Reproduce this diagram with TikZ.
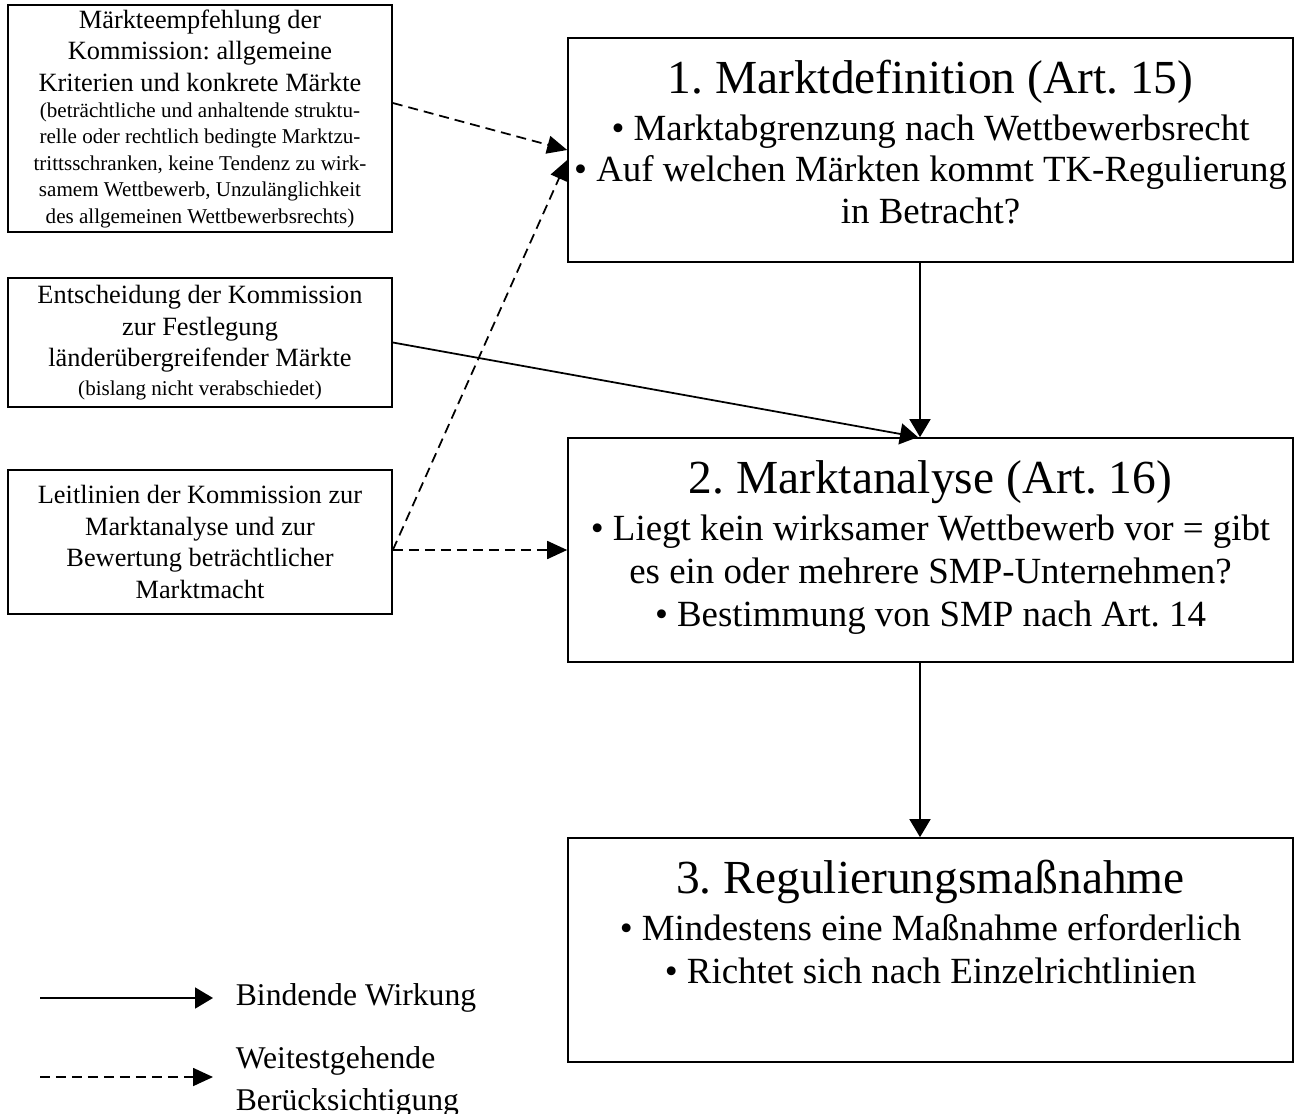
\documentclass[tikz,border=0pt]{standalone}
\usepackage{fontspec}
\setmainfont{Liberation Serif}
\usetikzlibrary{arrows.meta,positioning}
\newcommand\klein{\fontsize{12}{15}\selectfont}
\newcommand\stufe{\fontsize{27}{30}\selectfont}
\begin{document}
\frenchspacing
\begin{tikzpicture}[x=0.02cm, y=-0.02cm, line width=1pt,
side box/.style={rectangle,draw,minimum width=7.68cm,inner sep=0pt,align=center,font=\fontsize{15}{18}\selectfont},
step box/.style={rectangle,draw,minimum width=14.5cm,minimum height=4.48cm,inner sep=0pt},
step text/.style={anchor=north,inner sep=0pt,align=center,font=\fontsize{21}{24.5}\selectfont},
legend text/.style={anchor=west,inner sep=0pt,align=left,font=\fontsize{18}{24}\selectfont},
bindend/.style={-{Triangle[width=0.42cm,length=0.36cm]}},
beruecks/.style={-{Triangle[width=0.36cm,length=0.4cm]},dash pattern=on 0.2cm off 0.12cm}]
\useasboundingbox (0,0) rectangle (1295,1113);
\begin{scope}
\node[side box,minimum height=4.54cm] (empf) at (200,118.5) {M\"arkteempfehlung der\\Kommission: allgemeine\\Kriterien und konkrete M\"arkte\\[-3pt]
\klein (betr\"achtliche und anhaltende struktu-\\[-3pt]\klein relle oder rechtlich bedingte Marktzu-\\[-3pt]\klein trittsschranken, keine Tendenz zu wirk-\\[-3pt]\klein samem Wettbewerb, Unzul\"anglichkeit\\[-3pt]\klein des allgemeinen Wettbewerbsrechts)};
\node[side box,minimum height=2.58cm] (entsch) at (200,342.5) {Entscheidung der Kommission\\zur Festlegung\\l\"ander\"ubergreifender M\"arkte\\[-2pt]\klein (bislang nicht verabschiedet)};
\node[side box,minimum height=2.88cm] (leit) at (200,542) {Leitlinien der Kommission zur\\Marktanalyse und zur\\Bewertung betr\"achtlicher\\Marktmacht};
\end{scope}
\begin{scope}
\node[step box] (md) at (930.5,150) {};
\node[step box] (ma) at (930.5,550) {};
\node[step box] (rm) at (930.5,950) {};
\node[step text] (mdtext) at ([yshift=-0.45cm]md.north) {{\stufe 1. Marktdefinition (Art. 15)}\\[2pt]
• Marktabgrenzung nach Wettbewerbsrecht\\[-1pt]• Auf welchen M\"arkten kommt TK-Regulierung\\[-1pt]in Betracht?};
\node[step text] (matext) at ([yshift=-0.45cm]ma.north) {{\stufe 2. Marktanalyse (Art. 16)}\\[2pt]
• Liegt kein wirksamer Wettbewerb vor = gibt\\es ein oder mehrere SMP-Unternehmen?\\• Bestimmung von SMP nach Art. 14};
\node[step text] (rmtext) at ([yshift=-0.45cm]rm.north) {{\stufe 3. Regulierungsma\ss nahme}\\[2pt]
• Mindestens eine Ma\ss nahme erforderlich\\• Richtet sich nach Einzelrichtlinien};
\end{scope}
\begin{scope}
\draw[beruecks] ([yshift=0.31cm]empf.east) -- (md.west);
\draw[beruecks] (leit.east |- ma.west) -- ([yshift=-0.2cm]md.west);
\draw[beruecks] (leit.east |- ma.west) -- (ma.west);
\draw[bindend] (entsch.east) -- ([xshift=-0.25cm]ma.north);
\draw[bindend] ([xshift=-0.21cm]md.south) -- ([xshift=-0.21cm]ma.north);
\draw[bindend] ([xshift=-0.21cm]ma.south) -- ([xshift=-0.21cm]rm.north);
\end{scope}
% Legende
\node[legend text] (lbind) at (235,998) {Bindende Wirkung};
\node[legend text] (lweit) at (235,1082) {Weitestgehende\\Ber\"ucksichtigung};
\coordinate (lbindstart) at (40,998);
\coordinate (lbindtip) at ([xshift=-0.44cm]lbind.west);
\coordinate (lweitstart) at (40,1077);
\draw[bindend] (lbindstart) -- (lbindtip);
\draw[beruecks] (lweitstart) -- (lweitstart -| lbindtip);
\end{tikzpicture}
\end{document}
